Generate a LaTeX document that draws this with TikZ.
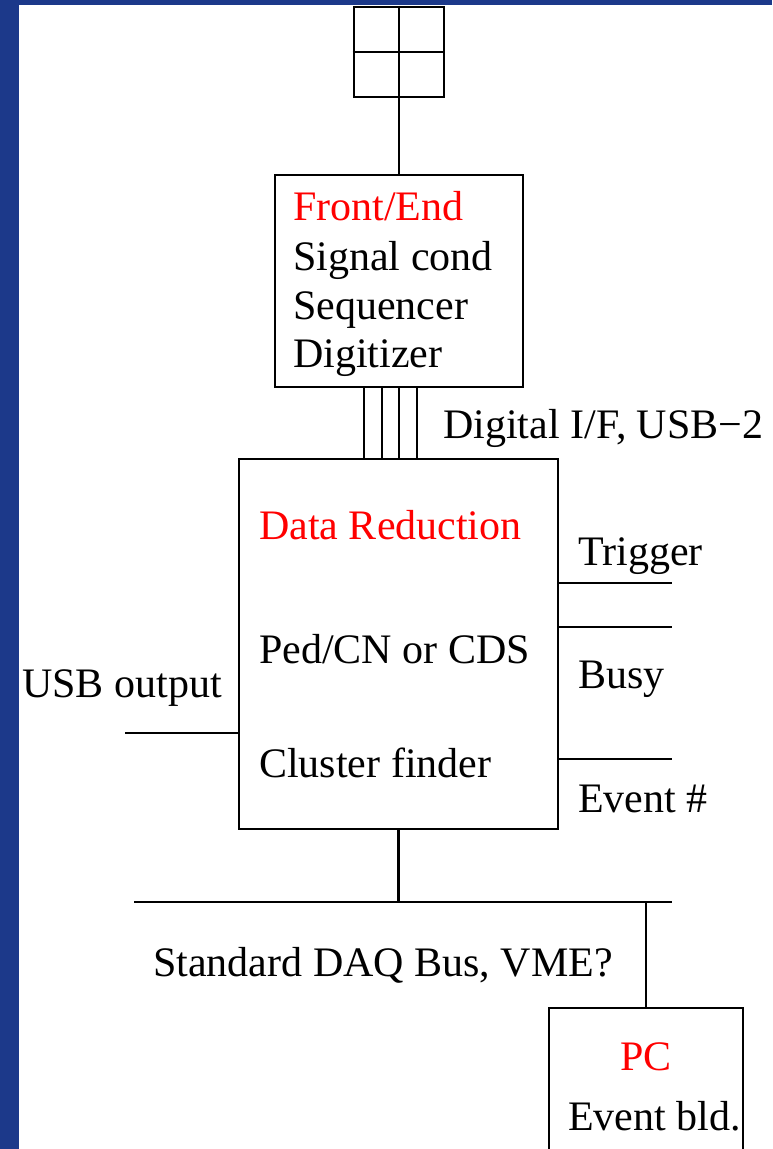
\documentclass[tikz,border=0pt]{standalone}
\usepackage{fontspec}
\setmainfont{Liberation Serif}
\usetikzlibrary{calc}
\definecolor{frameblue}{RGB}{28,57,138}
\definecolor{titlered}{RGB}{255,0,0}
\begin{document}
\begin{tikzpicture}[x=1pt,y=-1pt,
  wire/.style={line width=2.8pt,line cap=butt},
  blockbox/.style={draw,line width=2.8pt,rectangle,inner sep=0pt},
  lbl/.style={anchor=base west,inner sep=0pt,font=\fontsize{42}{49}\selectfont},
  title/.style={lbl,text=titlered}]
  % page and frame
  \useasboundingbox (0,0) rectangle (772,1149);
  \fill[white] (0,0) rectangle (772,1149);
  \fill[frameblue] (0,0) rectangle (19,1149);
  \fill[frameblue] (0,0) rectangle (772,5);

  % blocks
  \node[blockbox,minimum width=90pt,minimum height=90pt] (grid) at (399,52) {};
  \draw[wire] (grid.north) -- (grid.south);
  \draw[wire] (grid.west) -- (grid.east);
  \node[blockbox,minimum width=248pt,minimum height=212pt] (fe) at (399,281) {};
  \node[blockbox,minimum width=319pt,minimum height=370pt] (dr) at (398.5,644) {};
  \node[blockbox,minimum width=194pt,minimum height=150pt] (pc) at (646,1083) {};

  % connectors
  \draw[wire] (grid.south) -- (fe.north);
  \foreach \dx in {-35,-17,0,18}
    \draw[wire] ([xshift=\dx pt]fe.south) -- ([xshift=\dx pt]fe.south |- dr.north);

  \coordinate (trig) at (672,583);
  \coordinate (busy) at (672,627);
  \coordinate (evt)  at (672,759);
  \coordinate (usb)  at (125,733);
  \draw[wire] (dr.east |- trig) -- (trig);
  \draw[wire] (dr.east |- busy) -- (busy);
  \draw[wire] (dr.east |- evt) -- (evt);
  \draw[wire] (usb) -- (usb -| dr.west);

  \coordinate (busL) at (134,902);
  \coordinate (busR) at (672,902);
  \draw[wire] (busL) -- (busR);
  \draw[wire] (dr.south) -- (dr.south |- busL);
  \draw[wire] (pc.north) -- (pc.north |- busR);

  % front end text
  \node[title] (feT) at (293,220) {Front/End};
  \node[lbl] (fe1) at (293,270) {Signal cond};
  \node[lbl] (fe2) at (293,319) {Sequencer};
  \node[lbl] (fe3) at (293,367) {Digitizer};
  \node[lbl] (dif) at (443,438) {Digital I/F, USB−2};

  % data reduction text
  \node[title] (drT) at (259,539) {Data Reduction};
  \node[lbl] (dr1) at (259,663) {Ped/CN or CDS};
  \node[lbl] (dr2) at (259,777) {Cluster finder};

  % signal labels
  \node[lbl] (trigT) at (578,565) {Trigger};
  \node[lbl] (busyT) at (578,688) {Busy};
  \node[lbl] (evtT)  at (578,812) {Event \#};
  \node[lbl] (usbT)  at (22,697) {USB output};
  \node[lbl] (busT)  at (153,976) {Standard DAQ Bus, VME?};

  % pc text
  \node[title,anchor=base] (pcT) at (646,1070) {PC};
  \node[lbl] (pc1) at (568,1130) {Event bld.};
\end{tikzpicture}
\end{document}
